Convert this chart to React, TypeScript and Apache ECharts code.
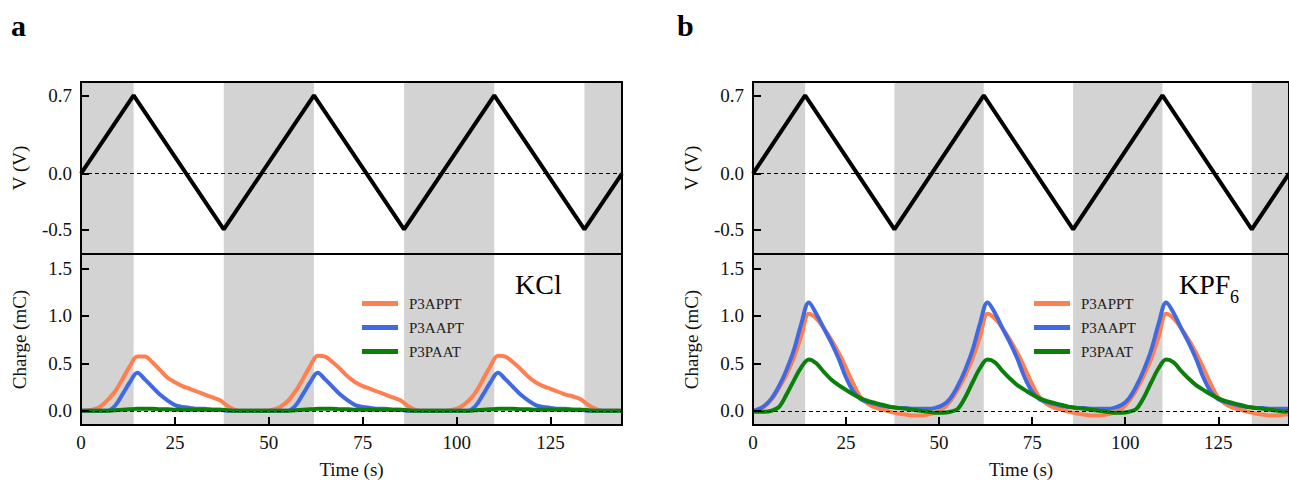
import React, { useEffect, useRef } from "react";
import * as echarts from "echarts";

// Sample times (s) shared by every charge trace
const timeS = [
  0, 1, 3, 5, 7, 9, 11, 13, 15, 17, 19, 21, 23, 25, 27, 29, 31, 33, 35, 37, 39, 41, 43, 45, 47,
  49, 51, 53, 55, 57, 59, 61, 63, 65, 67, 69, 71, 73, 75, 77, 79, 81, 83, 85, 87, 89, 91, 93, 95,
  97, 99, 101, 103, 105, 107, 109, 111, 113, 115, 117, 119, 121, 123, 125, 127, 129, 131, 133, 135, 137, 139, 141, 143,
  144,
];

// Charge (mC) in KCl electrolyte
const kclP3APPT = [
  0.0,
  0.0, 0.01, 0.04, 0.11, 0.2, 0.33, 0.47, 0.57, 0.57, 0.51, 0.43, 0.35, 0.3, 0.26, 0.23, 0.2, 0.17, 0.14, 0.11, 0.05, 0.01, 0.0, 0.0, 0.0,
  0.0, 0.01, 0.04, 0.1, 0.2, 0.33, 0.47, 0.58, 0.57, 0.51, 0.44, 0.36, 0.3, 0.26, 0.23, 0.2, 0.17, 0.14, 0.11, 0.05, 0.01, 0.0, 0.0, 0.0,
  0.0, 0.01, 0.04, 0.1, 0.19, 0.33, 0.47, 0.58, 0.57, 0.51, 0.44, 0.36, 0.3, 0.26, 0.23, 0.2, 0.17, 0.15, 0.12, 0.06, 0.02, 0.0, 0.0, 0.0,
  0.0,
];
const kclP3AAPT = [
  0.0,
  0.0, 0.0, 0.0, 0.0, 0.05, 0.17, 0.3, 0.4, 0.33, 0.25, 0.17, 0.11, 0.06, 0.04, 0.03, 0.02, 0.02, 0.01, 0.01, 0.0, 0.0, 0.0, 0.0, 0.0,
  0.0, 0.0, 0.0, 0.0, 0.05, 0.17, 0.3, 0.4, 0.33, 0.25, 0.17, 0.11, 0.06, 0.04, 0.03, 0.02, 0.02, 0.01, 0.01, 0.0, 0.0, 0.0, 0.0, 0.0,
  0.0, 0.0, 0.0, 0.0, 0.05, 0.17, 0.3, 0.4, 0.33, 0.25, 0.17, 0.11, 0.06, 0.04, 0.03, 0.02, 0.02, 0.01, 0.01, 0.0, 0.0, 0.0, 0.0, 0.0,
  0.0,
];
const kclP3PAAT = [
  0.0,
  0.0, 0.0, 0.0, 0.0, 0.005, 0.01, 0.015, 0.02, 0.02, 0.02, 0.015, 0.015, 0.01, 0.01, 0.01, 0.01, 0.01, 0.01, 0.01, 0.005, 0.0, 0.0, 0.0, 0.0,
  0.0, 0.0, 0.0, 0.0, 0.005, 0.01, 0.015, 0.02, 0.02, 0.02, 0.015, 0.015, 0.01, 0.01, 0.01, 0.01, 0.01, 0.01, 0.01, 0.005, 0.0, 0.0, 0.0, 0.0,
  0.0, 0.0, 0.0, 0.0, 0.005, 0.01, 0.015, 0.02, 0.02, 0.02, 0.015, 0.015, 0.01, 0.01, 0.01, 0.01, 0.01, 0.01, 0.01, 0.005, 0.0, 0.0, 0.0, 0.0,
  0.0,
];

// Charge (mC) in KPF6 electrolyte
const kpfP3APPT = [
  0.0,
  0.01, 0.04, 0.12, 0.24, 0.38, 0.56, 0.79, 1.02, 0.97, 0.87, 0.75, 0.61, 0.45, 0.28, 0.14, 0.07, 0.03, 0.01, -0.01, -0.03, -0.04, -0.05, -0.05, -0.04,
  -0.02, 0.02, 0.1, 0.22, 0.37, 0.55, 0.78, 1.02, 0.97, 0.87, 0.75, 0.61, 0.45, 0.28, 0.14, 0.07, 0.03, 0.01, -0.01, -0.03, -0.04, -0.05, -0.05, -0.04,
  -0.02, 0.02, 0.1, 0.22, 0.37, 0.55, 0.78, 1.02, 0.97, 0.87, 0.75, 0.61, 0.45, 0.28, 0.14, 0.07, 0.03, 0.01, -0.01, -0.03, -0.04, -0.05, -0.05, -0.04,
  -0.04,
];
const kpfP3AAPT = [
  0.0,
  0.01, 0.05, 0.13, 0.26, 0.43, 0.64, 0.92, 1.14, 1.02, 0.87, 0.72, 0.55, 0.35, 0.2, 0.12, 0.09, 0.07, 0.05, 0.04, 0.03, 0.03, 0.02, 0.02, 0.02,
  0.03, 0.06, 0.13, 0.26, 0.43, 0.64, 0.92, 1.14, 1.03, 0.87, 0.72, 0.55, 0.35, 0.2, 0.12, 0.09, 0.07, 0.05, 0.04, 0.03, 0.03, 0.02, 0.02, 0.02,
  0.03, 0.06, 0.13, 0.26, 0.43, 0.64, 0.92, 1.14, 1.03, 0.87, 0.72, 0.55, 0.35, 0.2, 0.12, 0.09, 0.07, 0.05, 0.04, 0.03, 0.03, 0.02, 0.02, 0.02,
  0.02,
];
const kpfP3PAAT = [
  -0.01,
  -0.01, -0.01, 0.0, 0.04, 0.17, 0.32, 0.46, 0.54, 0.5, 0.41, 0.33, 0.27, 0.22, 0.17, 0.13, 0.1, 0.08, 0.06, 0.04, 0.03, 0.02, 0.01, 0.0, -0.01,
  -0.02, -0.02, -0.01, 0.02, 0.14, 0.3, 0.45, 0.54, 0.51, 0.42, 0.34, 0.27, 0.22, 0.17, 0.13, 0.1, 0.08, 0.06, 0.04, 0.03, 0.02, 0.01, 0.0, -0.01,
  -0.02, -0.02, -0.01, 0.02, 0.14, 0.3, 0.45, 0.54, 0.51, 0.42, 0.34, 0.27, 0.22, 0.17, 0.13, 0.1, 0.08, 0.06, 0.04, 0.03, 0.02, 0.01, 0.0, -0.01,
  0.0,
];

// Triangular voltage sweep: [time (s), V]
const voltageVertices: [number, number][] = [
  [0, 0], [14, 0.7], [38, -0.5], [62, 0.7], [86, -0.5], [110, 0.7], [134, -0.5], [144, 0],
];

// Rising-voltage windows, shaded grey
const risingWindows: [number, number][] = [[0, 14], [38, 62], [86, 110], [134, 144]];

const timeTicks = [0, 25, 50, 75, 100, 125];
const voltTicks = [-0.5, 0, 0.7];
const chargeTicks = [0, 0.5, 1.0, 1.5];

const seriesNames = ["P3APPT", "P3AAPT", "P3PAAT"];
const seriesColors = ["#FF7F50", "#4169E1", "#0A7F0A"];

const FONT = '"Liberation Serif", "Times New Roman", serif';
const INK = "#111";

const pairs = (ts: number[], vs: number[]) => ts.map((t, i) => [t, vs[i]]);

// fresh style objects for every axis
const tickStyle = (values: number[]) => ({
  show: true, inside: true, length: 8, customValues: values,
  lineStyle: { color: "#000", width: 2 },
});
const labelStyle = () => ({ fontFamily: FONT, fontSize: 19, color: INK });
const frameLine = () => ({ show: true, onZero: false, lineStyle: { color: "#000", width: 2 } });

function buildOption() {
  const panels = [
    { left: 81, charge: [kclP3APPT, kclP3AAPT, kclP3PAAT], legendLeft: 362 },
    { left: 753, charge: [kpfP3APPT, kpfP3AAPT, kpfP3PAAT], legendLeft: 1034 },
  ];
  const plotWidth = 541;
  const grid: any[] = [];
  const xAxis: any[] = [];
  const yAxis: any[] = [];
  const series: any[] = [];

  const shadeArea = () => ({
    silent: true,
    z: 1,
    itemStyle: { color: "#D3D3D3" },
    data: risingWindows.map(([a, b]) => [{ xAxis: a }, { xAxis: b }]),
  });
  const zeroLine = () => ({
    silent: true,
    symbol: "none",
    label: { show: false },
    lineStyle: { color: "#000", type: [4, 3], width: 1 },
    data: [{ yAxis: 0 }],
  });

  panels.forEach((p, pi) => {
    const gTop = pi * 2;
    const gBot = pi * 2 + 1;
    grid.push({ left: p.left, top: 82, width: plotWidth, height: 172, show: true, borderColor: "#000", borderWidth: 2, z: 10 });
    grid.push({ left: p.left, top: 254, width: plotWidth, height: 171, show: true, borderColor: "#000", borderWidth: 2, z: 10 });

    xAxis.push({
      type: "value", gridIndex: gTop, min: 0, max: 144, z: 12,
      axisLine: frameLine(), axisTick: { show: false }, axisLabel: { show: false }, splitLine: { show: false },
    });
    xAxis.push({
      type: "value", gridIndex: gBot, min: 0, max: 144, z: 12,
      axisLine: frameLine(),
      axisTick: tickStyle(timeTicks),
      axisLabel: { ...labelStyle(), margin: 8, customValues: timeTicks },
      splitLine: { show: false },
      name: "Time (s)", nameLocation: "middle", nameGap: 35,
      nameTextStyle: labelStyle(),
    });
    yAxis.push({
      type: "value", gridIndex: gTop, min: -0.72, max: 0.82, z: 12,
      axisLine: frameLine(),
      axisTick: tickStyle(voltTicks),
      axisLabel: { ...labelStyle(), margin: 9, customValues: voltTicks, formatter: (v: number) => v.toFixed(1) },
      splitLine: { show: false },
      name: "V (V)", nameLocation: "middle", nameGap: 52, nameRotate: 90,
      nameTextStyle: labelStyle(),
    });
    yAxis.push({
      type: "value", gridIndex: gBot, min: -0.15, max: 1.65, z: 12,
      axisLine: frameLine(),
      axisTick: tickStyle(chargeTicks),
      axisLabel: { ...labelStyle(), margin: 9, customValues: chargeTicks, formatter: (v: number) => v.toFixed(1) },
      splitLine: { show: false },
      name: "Charge (mC)", nameLocation: "middle", nameGap: 52, nameRotate: 90,
      nameTextStyle: labelStyle(),
    });

    // voltage sweep, carrying the grey windows and the zero reference
    series.push({
      type: "line", xAxisIndex: gTop, yAxisIndex: gTop, data: voltageVertices,
      symbol: "none", lineStyle: { color: "#000", width: 4 }, z: 3, silent: true,
      markArea: shadeArea(),
      markLine: zeroLine(),
    });

    // charge traces
    p.charge.forEach((vals, si) => {
      series.push({
        name: seriesNames[si], type: "line", xAxisIndex: gBot, yAxisIndex: gBot,
        data: pairs(timeS, vals), symbol: "none", smooth: 0.35,
        lineStyle: { color: seriesColors[si], width: 4 }, itemStyle: { color: seriesColors[si] },
        z: 3, silent: true,
        ...(si === 0 ? { markArea: shadeArea() } : {}),
        ...(si === 2 ? { markLine: zeroLine() } : {}),
      });
    });
  });

  const legend = panels.map((p) => ({
    data: seriesNames, orient: "vertical", left: p.legendLeft, top: 296, padding: 0,
    itemWidth: 36, itemHeight: 5, itemGap: 9, icon: "rect", selectedMode: false,
    textStyle: { fontFamily: FONT, fontSize: 15, color: "#222", padding: [0, 0, 0, 6] },
  }));

  const graphic = [
    { type: "text", left: 11, top: 10, style: { text: "a", font: `bold 30px ${FONT}`, fill: "#000" } },
    { type: "text", left: 677, top: 10, style: { text: "b", font: `bold 30px ${FONT}`, fill: "#000" } },
    { type: "text", left: 515, top: 270, style: { text: "KCl", font: `28px ${FONT}`, fill: "#000" } },
    { type: "text", left: 1179, top: 270, style: { text: "KPF", font: `28px ${FONT}`, fill: "#000" } },
    { type: "text", left: 1230, top: 288, style: { text: "6", font: `18px ${FONT}`, fill: "#000" } },
  ];

  return { animation: false, backgroundColor: "#fff", grid, xAxis, yAxis, series, legend, graphic };
}

export default function App() {
  const ref = useRef<HTMLDivElement>(null);
  useEffect(() => {
    if (!ref.current) return;
    const chart = echarts.init(ref.current, undefined, { renderer: "svg" });
    chart.setOption(buildOption() as any);
    return () => chart.dispose();
  }, []);
  return (
    <div
      ref={ref}
      style={{ position: "absolute", left: 0, top: 0, width: 1289, height: 487 }}
    />
  );
}
